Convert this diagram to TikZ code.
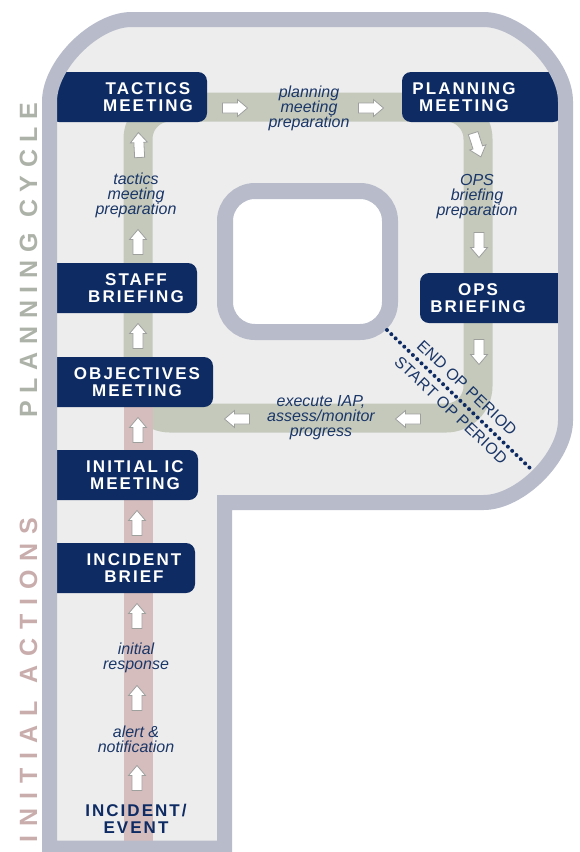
\documentclass[tikz,border=0pt]{standalone}
\usepackage{fontspec}
\setmainfont{Liberation Sans}
\newfontfamily\boxfont{Liberation Sans}[LetterSpace=12]
\newfontfamily\periodfont{Liberation Sans}[LetterSpace=2]
\definecolor{pborder}{HTML}{B7BBCA}
\definecolor{pfill}{HTML}{EDEDED}
\definecolor{trackc}{HTML}{C4C9BC}
\definecolor{pinkc}{HTML}{D6BDBD}
\definecolor{navy}{HTML}{0E2C63}
\definecolor{lblnavy}{HTML}{1B3768}
\definecolor{arrowgray}{HTML}{9EA09E}
\definecolor{sidegreen}{HTML}{ADB2A8}
\definecolor{sidepink}{HTML}{C9ADAD}
\begin{document}
\begin{tikzpicture}[x=1pt,y=-1pt,
  navybox/.style={fill=navy, rounded corners=9, inner sep=0, minimum height=50},
  boxtext/.style={text=white, font=\boxfont\bfseries\fontsize{17}{17}\selectfont, align=center, inner sep=0},
  lbl/.style={text=lblnavy, font=\itshape\fontsize{16}{15}\selectfont, align=center, inner sep=0},
  periodtxt/.style={text=lblnavy, font=\periodfont\fontsize{16}{16}\selectfont, inner sep=0, rotate=-43.5},
  blkstyle/.style={draw=arrowgray, fill=white, line width=0.8, line join=miter},
  blkarrow/.pic={\draw[blkstyle] (-12.5,-5) -- (2.5,-5) -- (2.5,-8.5) -- (12.5,0) -- (2.5,8.5) -- (2.5,5) -- (-12.5,5) -- cycle;},
  sidetxt/.style={rotate=90, inner sep=0, font=\bfseries\fontsize{25}{25}\selectfont}
]
\useasboundingbox (0,0) rectangle (579,852);
% P body fill
\fill[pfill] (49.5,848) -- (49.5,101.5) .. controls (49.5,64.8) and (94.8,19.5) .. (131.5,19.5) -- (483.5,19.5) .. controls (520.2,19.5) and (565.5,64.8) .. (565.5,101.5) -- (565.5,420.5) .. controls (565.5,457.2) and (520.2,502.5) .. (483.5,502.5) -- (224.5,502.5) -- (224.5,848) -- cycle;
% hole
\draw[pborder, fill=white, line width=16, rounded corners=30] (225,191) rectangle (390,332);
% cycle track
\draw[trackc, line width=29, rounded corners=32] (138,107) rectangle (478,418);
% initial actions track
\fill[pinkc] (123.5,407) rectangle (152.5,850);
% boxes
\node[navybox, minimum width=157] (tacticsbox) at (128.5,97) {};
\node[navybox, minimum width=160] (planningbox) at (482,97) {};
\node[navybox, minimum width=153] (staffbox) at (120.5,288) {};
\node[navybox, minimum width=169] (objectivesbox) at (128.5,382) {};
\node[navybox, minimum width=151] (opsbox) at (495.5,298) {};
\node[navybox, minimum width=154] (icbox) at (121,475) {};
\node[navybox, minimum width=151] (briefbox) at (119.5,568) {};
% P border on top
\draw[pborder, line width=15] (49.5,848) -- (49.5,101.5) .. controls (49.5,64.8) and (94.8,19.5) .. (131.5,19.5) -- (483.5,19.5) .. controls (520.2,19.5) and (565.5,64.8) .. (565.5,101.5) -- (565.5,420.5) .. controls (565.5,457.2) and (520.2,502.5) .. (483.5,502.5) -- (224.5,502.5) -- (224.5,848) -- cycle;
% box texts
\node[boxtext] (tactics) at (148,97) {TACTICS\\MEETING};
\node[boxtext] (planning) at (464,97) {PLANNING\\MEETING};
\node[boxtext] (staff) at (136,288) {STAFF\\BRIEFING};
\node[boxtext] (objectives) at (137,382) {OBJECTIVES\\MEETING};
\node[boxtext] (ops) at (478,298) {OPS\\BRIEFING};
\node[boxtext] (ic) at (135,475) {INITIAL IC\\MEETING};
\node[boxtext] (brief) at (134,568) {INCIDENT\\BRIEF};
\node[boxtext, text=navy] (event) at (136,819) {INCIDENT/\\EVENT};
% labels
\node[lbl] (l1) at (309,108) {planning\\meeting\\preparation};
\node[lbl] (l2) at (136,195) {tactics\\meeting\\preparation};
\node[lbl] (l3) at (477,197) {OPS\\briefing\\preparation};
\node[lbl] (l4) at (321,418) {execute IAP,\\assess/monitor\\progress};
\node[lbl] (l5) at (136,658) {initial\\response};
\node[lbl] (l6) at (136,739) {alert \&\\notification};
% block arrows
\pic at (235,108) {blkarrow};
\pic at (371,108) {blkarrow};
\pic[rotate=-72] at (477,145) {blkarrow};
\pic[rotate=-90] at (479,245) {blkarrow};
\pic[rotate=-90] at (479,352) {blkarrow};
\pic[rotate=180] at (408,419) {blkarrow};
\pic[rotate=180] at (237,419) {blkarrow};
\pic[rotate=93] at (139,145) {blkarrow};
\pic[rotate=90] at (138,242) {blkarrow};
\pic[rotate=90] at (138,336) {blkarrow};
\pic[rotate=90] at (138,430) {blkarrow};
\pic[rotate=90] at (137,523) {blkarrow};
\pic[rotate=90] at (137,616) {blkarrow};
\pic[rotate=90] at (137,698) {blkarrow};
\pic[rotate=90] at (137,778) {blkarrow};
% op period line
\coordinate (d1) at (387,330);
\coordinate (d2) at (532,470);
\draw[navy, line width=4, line cap=round, dash pattern=on 0pt off 6pt] (d1) -- (d2);
\node[periodtxt] (endop) at (467,388) {END OP PERIOD};
\node[periodtxt] (startop) at (451,410) {START OP PERIOD};
% side texts
\node[sidetxt, text=sidegreen] (pc) at (28.5,260) {\makebox[315pt][s]{P\hfill L\hfill A\hfill N\hfill N\hfill I\hfill N\hfill G\hfill\hfill C\hfill Y\hfill C\hfill L\hfill E}};
\node[sidetxt, text=sidepink] (ia) at (28.5,680) {\makebox[325pt][s]{I\hfill N\hfill I\hfill T\hfill I\hfill A\hfill L\hfill\hfill A\hfill C\hfill T\hfill I\hfill O\hfill N\hfill S}};
\end{tikzpicture}
\end{document}
